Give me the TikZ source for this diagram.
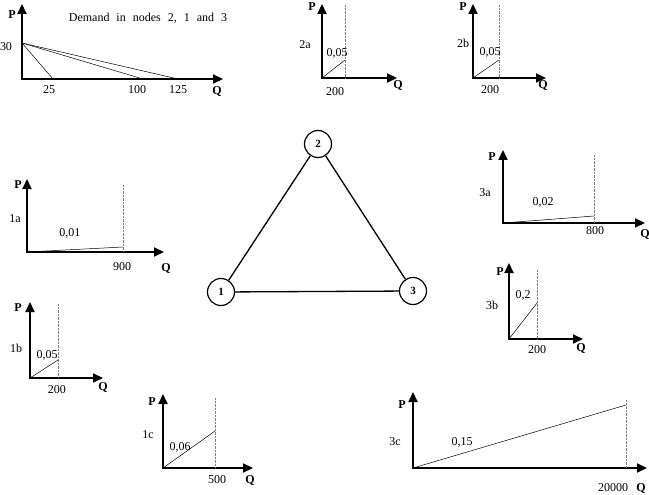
\documentclass[tikz,border=0pt]{standalone}
\usepackage{fontspec}
\setmainfont{Liberation Serif}
\usetikzlibrary{arrows.meta}
\begin{document}
\begin{tikzpicture}[x=1pt,y=-1pt,
 axis/.style={line width=2.2pt,-{Triangle[length=10pt,width=9pt]}},
 curve/.style={line width=0.5pt},
 guide/.style={line width=0.4pt,densely dotted,gray},
 lbl/.style={font=\fontsize{12}{12}\selectfont,inner sep=0pt},
 axl/.style={font=\fontsize{12}{12}\selectfont\bfseries,inner sep=0pt},
 nd/.style={circle,draw,line width=1.2pt,minimum size=27pt,inner sep=0pt,font=\fontsize{11}{11}\selectfont\bfseries},
 edge/.style={line width=1.3pt}]
\useasboundingbox (0,0) rectangle (649,495);

% ---------- Demand chart ----------
\coordinate (dO) at (22,79);
\coordinate (dP) at (22,43);
\coordinate (dA) at (53,79);
\coordinate (dB) at (143,79);
\coordinate (dC) at (178,79);
\draw[axis] (22,80.1) -- (22,4);
\draw[axis] (20.9,79) -- (223,79);
\draw[curve] (dP) -- (dA);
\draw[curve] (dP) -- (dB);
\draw[curve] (dP) -- (dC);
\node[axl] (dPl) at (12,15) {P};
\node[axl] (dQl) at (217,92) {Q};
\node[lbl] (d30) at (6,47) {30};
\node[lbl] (d25) at (49,90) {25};
\node[lbl] (d100) at (137,90) {100};
\node[lbl] (d125) at (178,90) {125};
\node[lbl] (dtitle) at (148,18) {Demand\hskip 7pt in\hskip 7pt nodes\hskip 7pt 2,\hskip 7pt 1\hskip 7pt and\hskip 7pt 3};

% ---------- 2a ----------
\draw[axis] (322,79.1) -- (322,4);
\draw[axis] (320.9,78) -- (397,78);
\coordinate (aO) at (322,78);
\coordinate (aE) at (345,60);
\draw[guide] (345,5) -- (345,78);
\draw[curve] (aO) -- (aE);
\node[axl] (aPl) at (312,7) {P};
\node[axl] (aQl) at (398,86) {Q};
\node[lbl] (aname) at (305,45) {2a};
\node[lbl] (aslope) at (337,53) {0,05};
\node[lbl] (acap) at (335,92) {200};

% ---------- 2b ----------
\draw[axis] (473,79.1) -- (473,4);
\draw[axis] (471.9,78) -- (546,78);
\coordinate (bO) at (473,78);
\coordinate (bE) at (499,60);
\draw[guide] (499,5) -- (499,78);
\draw[curve] (bO) -- (bE);
\node[axl] (bPl) at (463,7) {P};
\node[axl] (bQl) at (543,86) {Q};
\node[lbl] (bname) at (463,43) {2b};
\node[lbl] (bslope) at (490,52) {0,05};
\node[lbl] (bcap) at (490,90) {200};

% ---------- 1a ----------
\draw[axis] (27,253.1) -- (27,179);
\draw[axis] (25.9,252) -- (164,252);
\coordinate (cO) at (27,252);
\coordinate (cE) at (123,247);
\draw[guide] (123,185) -- (123,252);
\draw[curve] (cO) -- (cE);
\node[axl] (cPl) at (18,185) {P};
\node[axl] (cQl) at (166,268) {Q};
\node[lbl] (cname) at (15,219) {1a};
\node[lbl] (cslope) at (70,233) {0,01};
\node[lbl] (ccap) at (122,267) {900};

% ---------- 3a ----------
\draw[axis] (503,224.1) -- (503,150);
\draw[axis] (501.9,223) -- (645,223);
\coordinate (eO) at (503,223);
\coordinate (eE) at (594,216);
\draw[guide] (594,155) -- (594,223);
\draw[curve] (eO) -- (eE);
\node[axl] (ePl) at (492,157) {P};
\node[axl] (eQl) at (645,234) {Q};
\node[lbl] (ename) at (485,193) {3a};
\node[lbl] (eslope) at (543,202) {0,02};
\node[lbl] (ecap) at (595,231) {800};

% ---------- 1b ----------
\draw[axis] (30,379.1) -- (30,302);
\draw[axis] (28.9,378) -- (103,378);
\coordinate (fO) at (30,378);
\coordinate (fE) at (58,360);
\draw[guide] (58,304) -- (58,378);
\draw[curve] (fO) -- (fE);
\node[axl] (fPl) at (18,308) {P};
\node[axl] (fQl) at (103,387) {Q};
\node[lbl] (fname) at (16,348) {1b};
\node[lbl] (fslope) at (47,355) {0,05};
\node[lbl] (fcap) at (57,390) {200};

% ---------- 3b ----------
\draw[axis] (509,340.1) -- (509,263);
\draw[axis] (507.9,339) -- (583,339);
\coordinate (gO) at (509,339);
\coordinate (gE) at (537,303);
\draw[guide] (537,270) -- (537,339);
\draw[curve] (gO) -- (gE);
\node[axl] (gPl) at (500,272) {P};
\node[axl] (gQl) at (581,348) {Q};
\node[lbl] (gname) at (492,305) {3b};
\node[lbl] (gslope) at (523,295) {0,2};
\node[lbl] (gcap) at (537,350) {200};

% ---------- 1c ----------
\draw[axis] (163,469.1) -- (163,394);
\draw[axis] (161.9,468) -- (253,468);
\coordinate (hO) at (163,468);
\coordinate (hE) at (215,431);
\draw[guide] (215,398) -- (215,468);
\draw[curve] (hO) -- (hE);
\node[axl] (hPl) at (152,402) {P};
\node[axl] (hQl) at (250,480) {Q};
\node[lbl] (hname) at (148,435) {1c};
\node[lbl] (hslope) at (180,447) {0,06};
\node[lbl] (hcap) at (217,480) {500};

% ---------- 3c ----------
\draw[axis] (413,469.1) -- (413,392);
\draw[axis] (411.9,468) -- (647,468);
\coordinate (kO) at (413,468);
\coordinate (kE) at (626,405);
\draw[guide] (626,400) -- (626,468);
\draw[curve] (kO) -- (kE);
\node[axl] (kPl) at (402,405) {P};
\node[axl] (kQl) at (641,488) {Q};
\node[lbl] (kname) at (395,442) {3c};
\node[lbl] (kslope) at (462,442) {0,15};
\node[lbl] (kcap) at (613,488) {20000};

% ---------- Network ----------
\node[nd] (n2) at (318,144) {2};
\node[nd] (n1) at (221,292) {1};
\node[nd] (n3) at (413,291) {3};
\draw[edge] (n1) -- (n2);
\draw[edge] (n2) -- (n3);
\draw[edge] (n1) -- (n3);
\end{tikzpicture}
\end{document}
